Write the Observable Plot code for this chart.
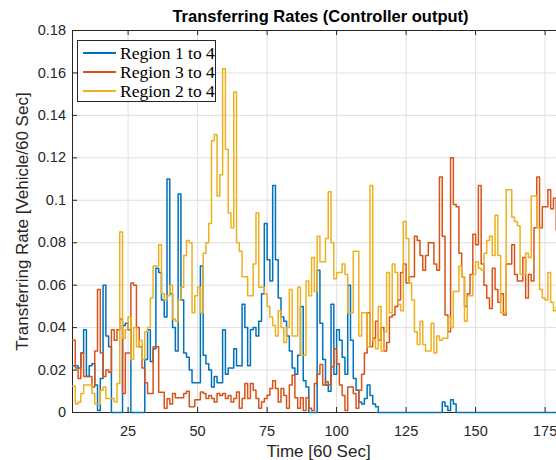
<!DOCTYPE html>
<html>
<head>
<meta charset="utf-8">
<script src="https://cdn.jsdelivr.net/npm/d3@7"></script>
<script src="https://cdn.jsdelivr.net/npm/@observablehq/plot@0.6"></script>
<style>
  body { margin: 0; background: #fff; }
  #wrap { position: relative; width: 556px; height: 460px; overflow: hidden; background: #fff; }
  #legend { position: absolute; left: 77px; top: 40px; width: 137px; height: 60px; border: 1px solid #262626; background: #fff;
            font-family: "Liberation Serif", "DejaVu Serif", serif; font-size: 17.5px; color: #000; }
  .sw { position: absolute; left: 5px; width: 33px; height: 0; border-top: 2px solid; }
  .lab { position: absolute; left: 42px; line-height: 18px; white-space: nowrap; }
</style>
</head>
<body>
<div id="wrap"></div>
<script>
// ---- data ----
const startTime = 5;            // first sample shown (Time [60 Sec])
const seriesNames = ["Region 1 to 4", "Region 3 to 4", "Region 2 to 4"];
const seriesColors = ["#0072BD", "#D95319", "#EDB120"];

const region1to4 = [
  0.022,0.022,0.021,0.028,0.039,0.017,0.022,0.023,0.013,0.001,
  0.016,0.06,0.036,0.031,0,0,0,0,0.041,0.042,
  0.039,0,0,0,0,0,0.025,0.039,0.024,0.03,
  0.068,0.066,0.053,0.045,0.11,0.056,0.04,0.029,0.103,0.053,
  0.028,0.026,0.02,0.014,0.014,0.014,0.069,0.027,0.023,0.02,
  0.012,0.017,0.014,0.014,0.039,0.018,0.021,0.021,0.03,0.022,
  0.022,0.051,0.04,0.022,0.039,0.04,0.036,0.043,0.056,0.089,
  0.072,0.062,0.107,0.072,0.054,0.045,0.043,0.036,0.029,0.021,
  0.018,0.027,0.05,0.015,0.012,0,0,0,0.067,0.042,
  0.025,0.013,0.01,0.051,0.018,0.039,0.034,0.026,0.018,0.06,
  0.034,0.016,0.0105,0.005,0.004,0.0066,0.013,0.008,0.004,0.0027,
  0,0,0,0,0,0,0,0,0,0,
  0,0,0,0,0,0,0,0,0,0,
  0,0,0,0.005,0.003,0.001,0.006,0.004,0,0,
  0,0,0,0,0,0,0,0,0,0,
  0,0,0,0,0,0,0,0,0,0,
  0,0,0,0,0,0,0,0,0,0,
  0,0,0,0,0
];
const region3to4 = [
  0.034,0.021,0.016,0.028,0.017,0.017,0.017,0.012,0.029,0.058,
  0.028,0.017,0.02,0.019,0.039,0.034,0.039,0.044,0.009,0.028,
  0.028,0.061,0.06,0.04,0.031,0.021,0.014,0.009,0.009,0.031,
  0.031,0.0095,0.0095,0.002,0.0065,0.004,0.009,0.007,0.007,0.007,
  0.009,0.01,0.0027,0.0027,0.006,0.006,0.0097,0.009,0.0066,0.008,
  0.0066,0.005,0.009,0.008,0.009,0.0066,0.008,0.005,0.0066,0.0097,
  0.002,0.0066,0.0137,0.0066,0.0137,0.0105,0.0066,0.002,0.005,0.0066,
  0.0081,0.0113,0.015,0.0113,0.005,0.0113,0.008,0.002,0.0129,0.0176,
  0.007,0.002,0.007,0.001,0.007,0.002,0.001,0.0137,0.018,0.0226,
  0.013,0.0145,0.013,0.0215,0.03,0.023,0.013,0.008,0.001,0.012,
  0.012,0.009,0.002,0.0105,0.018,0.028,0.047,0.031,0.035,0.043,
  0.034,0.04,0.029,0.033,0.045,0.046,0.05,0.053,0.066,0.07,
  0.061,0.064,0.064,0.083,0.081,0.074,0.067,0.074,0.08,0.08,
  0.07,0.067,0.111,0.083,0.046,0.038,0.12,0.098,0.097,0.075,
  0.064,0.05,0.056,0.065,0.084,0.079,0.107,0.07,0.06,0.054,
  0.049,0.068,0.058,0.052,0.056,0.046,0.07,0.07,0.079,0.065,
  0.062,0.062,0.073,0.054,0.065,0.062,0.087,0.111,0.087,0.097,
  0.097,0.105,0.096,0.101,0.086
];
const region2to4 = [
  0.0124,0.004,0.005,0.009,0.013,0.013,0.013,0.009,0.004,0.004,
  0.0105,0.012,0.0066,0.0066,0.0066,0.005,0.0137,0.085,0.035,0.039,
  0.045,0.025,0.04,0.031,0.034,0.025,0.038,0.04,0.054,0.069,
  0.069,0.079,0.056,0.053,0.055,0.06,0.044,0.043,0.053,0.059,
  0.074,0.081,0.08,0.047,0.055,0.059,0.047,0.075,0.08,0.089,
  0.128,0.131,0.102,0.112,0.162,0.124,0.094,0.087,0.151,0.08,
  0.076,0.064,0.064,0.055,0.055,0.07,0.094,0.059,0.059,0.056,
  0.05,0.045,0.041,0.036,0.048,0.04,0.033,0.04,0.058,0.036,
  0.036,0.059,0.027,0.027,0.062,0.055,0.073,0.057,0.083,0.071,
  0.071,0.082,0.104,0.08,0.063,0.066,0.066,0.07,0.065,0.047,
  0.047,0.076,0.076,0.036,0.047,0.047,0.031,0.107,0.034,0.03,
  0.05,0.029,0.038,0.066,0.047,0.07,0.066,0.051,0.048,0.09,
  0.082,0.061,0.053,0.038,0.032,0.043,0.032,0.029,0.029,0.042,
  0.028,0.036,0.034,0.035,0.035,0.045,0.04,0.057,0.057,0.069,
  0.064,0.043,0.055,0.055,0.065,0.071,0.068,0.067,0.075,0.081,
  0.083,0.074,0.093,0.074,0.047,0.047,0.105,0.105,0.092,0.09,
  0.088,0.065,0.065,0.075,0.073,0.102,0.102,0.087,0.058,0.054,
  0.053,0.066,0.052,0.048,0.05
];

const xTicks = [25, 50, 75, 100, 125, 150, 175];
const yTicks = [0, 0.02, 0.04, 0.06, 0.08, 0.1, 0.12, 0.14, 0.16, 0.18];
const yTickLabels = ["0", "0.02", "0.04", "0.06", "0.08", "0.1", "0.12", "0.14", "0.16", "0.18"];
const xDomain = [5, 179.1];
const yDomain = [0, 0.18];
const titleText = "Transferring Rates (Controller output)";
const xLabel = "Time [60 Sec]";
const yLabel = "Transferring Rate [Vehicle/60 Sec]";

// ---- build long table; repeat the last value one step further so the last stair is drawn ----
const allSeries = [region1to4, region3to4, region2to4];
const rows = [];
allSeries.forEach((vals, s) => {
  vals.forEach((v, i) => rows.push({series: seriesNames[s], t: startTime + i, v}));
  rows.push({series: seriesNames[s], t: startTime + vals.length, v: vals[vals.length - 1]});
});

const W = 556, H = 460, mL = 72, mR = 0, mT = 30, mB = 48;
const plotW = W - mL - mR, plotH = H - mT - mB;
const axisColor = "#262626";
const gridColor = "#dfdfdf";

const lineMarks = seriesNames.map((name, s) =>
  Plot.line(rows.filter(d => d.series === name), {
    x: "t", y: "v", curve: "step-after", stroke: seriesColors[s], strokeWidth: 1.5
  })
);

const chart = Plot.plot({
  width: W, height: H,
  marginLeft: mL, marginRight: mR, marginTop: mT, marginBottom: mB,
  style: {fontFamily: "'Liberation Sans', Arial, sans-serif", background: "#fff", color: axisColor},
  x: {domain: xDomain, label: null},
  y: {domain: yDomain, label: null},
  marks: [
    Plot.gridX(xTicks, {stroke: gridColor, strokeOpacity: 1}),
    Plot.gridY(yTicks, {stroke: gridColor, strokeOpacity: 1}),
    Plot.ruleY([yDomain[1]], {stroke: axisColor, strokeWidth: 1}),
    Plot.ruleX([xDomain[0]], {stroke: axisColor, strokeWidth: 1}),
    Plot.ruleY([yDomain[0]], {stroke: axisColor, strokeWidth: 1}),
    // inward ticks
    Plot.ruleY(yTicks, {stroke: axisColor, insetRight: plotW - 5}),
    Plot.ruleX(xTicks, {stroke: axisColor, insetTop: plotH - 5}),
    Plot.ruleX(xTicks, {stroke: axisColor, insetBottom: plotH - 5}),
    Plot.axisX(xTicks, {tickSize: 0, tickPadding: 13, fontSize: 14.5, fill: axisColor, label: null}),
    Plot.axisY(yTicks, {tickSize: 0, tickPadding: 6.5, fontSize: 14.5, fill: axisColor, label: null,
                        tickFormat: d => yTickLabels[yTicks.indexOf(d)]}),
    ...lineMarks,
    Plot.text([titleText], {text: d => d, frameAnchor: "top", dx: 6, dy: -13.5, lineAnchor: "middle",
                            textAnchor: "middle", fontSize: 16.5, fontWeight: "bold", fill: "#000"}),
    Plot.text([xLabel], {text: d => d, frameAnchor: "bottom", dx: 4, dy: 39, lineAnchor: "middle",
                         textAnchor: "middle", fontSize: 17, fill: axisColor}),
    Plot.text([yLabel], {text: d => d, frameAnchor: "left", dx: -50, rotate: -90, lineAnchor: "middle",
                         textAnchor: "middle", fontSize: 17, fill: axisColor})
  ]
});

const wrap = document.getElementById("wrap");
wrap.appendChild(chart);

// legend
const legend = document.createElement("div");
legend.id = "legend";
const rowCenters = [11.7, 30.7, 50];
seriesNames.forEach((name, s) => {
  const sw = document.createElement("div");
  sw.className = "sw";
  sw.style.borderTopColor = seriesColors[s];
  sw.style.top = (rowCenters[s] - 1) + "px";
  const lab = document.createElement("div");
  lab.className = "lab";
  lab.textContent = name;
  lab.style.top = (rowCenters[s] - 9) + "px";
  legend.appendChild(sw);
  legend.appendChild(lab);
});
wrap.appendChild(legend);
</script>
</body>
</html>
